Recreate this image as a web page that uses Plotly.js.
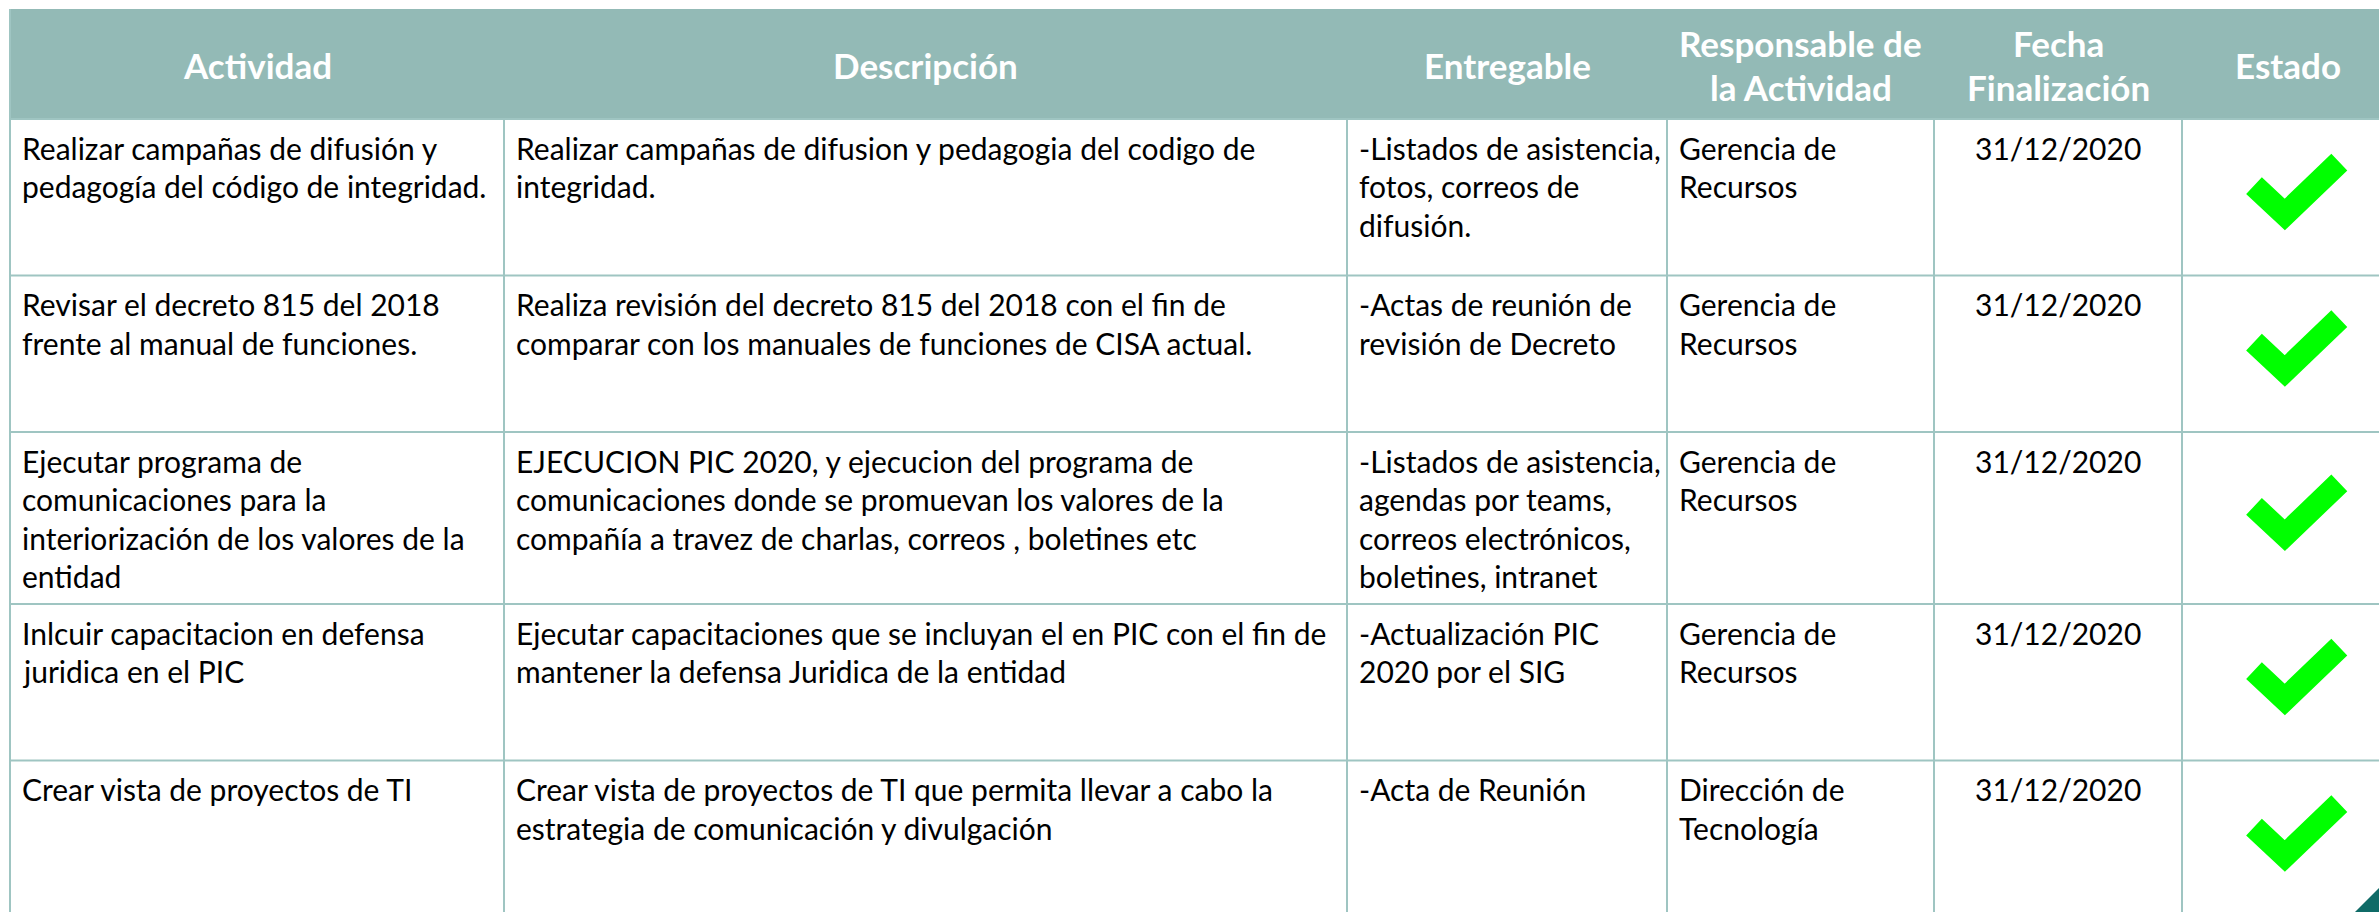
<!DOCTYPE html>
<html>
<head>
<meta charset="utf-8">
<script src="https://cdn.plot.ly/plotly-3.0.1.min.js"></script>
<style>html,body{margin:0;padding:0;background:#fff;}#chart{width:2379px;height:912px;}</style>
</head>
<body>
<div id="chart"></div>
<script>
// ---------- DATA ----------
const encabezados = ["Actividad", "Descripción", "Entregable", "Responsable de<br>la Actividad", "Fecha<br>Finalización", "Estado"];
const actividades = [
  "Realizar campañas de difusión y<br>pedagogía del código de integridad.",
  "Revisar el decreto 815 del 2018<br>frente al manual de funciones.",
  "Ejecutar programa de<br>comunicaciones para la<br>interiorización de los valores de la<br>entidad",
  "Inlcuir capacitacion en defensa<br>juridica en el PIC",
  "Crear vista de proyectos de TI"
];
const descripciones = [
  "Realizar campañas de difusion y pedagogia del codigo de<br>integridad.",
  "Realiza revisión del decreto 815 del 2018 con el fin de<br>comparar con los manuales de funciones de CISA actual.",
  "EJECUCION PIC 2020, y ejecucion del programa de<br>comunicaciones donde se promuevan los valores de la<br>compañía a travez de charlas, correos , boletines etc",
  "Ejecutar capacitaciones que se incluyan el en PIC con el fin de<br>mantener la defensa Juridica de la entidad",
  "Crear vista de proyectos de TI que permita llevar a cabo la<br>estrategia de comunicación y divulgación"
];
const entregables = [
  "-Listados de asistencia,<br>fotos, correos de<br>difusión.",
  "-Actas de reunión de<br>revisión de Decreto",
  "-Listados de asistencia,<br>agendas por teams,<br>correos electrónicos,<br>boletines, intranet",
  "-Actualización PIC<br>2020 por el SIG",
  "-Acta de Reunión"
];
const responsables = [
  "Gerencia de<br>Recursos",
  "Gerencia de<br>Recursos",
  "Gerencia de<br>Recursos",
  "Gerencia de<br>Recursos",
  "Dirección de<br>Tecnología"
];
const fechas = ["31/12/2020", "31/12/2020", "31/12/2020", "31/12/2020", "31/12/2020"];
const estados = ["Cumplida", "Cumplida", "Cumplida", "Cumplida", "Cumplida"];

// ---------- LAYOUT CONSTANTS ----------
const W = 2379, H = 912;
const colEdges = [10, 504, 1347, 1667, 1934, 2182, 2394];
const colAlign = ["left", "left", "left", "left", "center", "check"];
const TOP = 9, HEADER_H = 110;
const PAD_X = 10;
const FIRST = 28.5;    // centre of first text line below the row top
const LINE = 38.5;     // line spacing
const MIN_ROW = 156.5;
const HEAD_LINE = 44;

const HEADER_COLOR = "#93bab6";
const GRID_COLOR = "#9fc5c2";
const BODY_FONT = {family: "Lato, 'Open Sans', sans-serif", size: 30, color: "#000000"};
const HEAD_FONT = {family: "Lato, 'Open Sans', sans-serif", size: 35, color: "#ffffff", weight: "bold"};
const CHECK_COLOR = "#00ff00";

const columns = [actividades, descripciones, entregables, responsables, fechas, estados];
const nRows = actividades.length;

// row heights from number of text lines
const rowEdges = [TOP + HEADER_H];
for (let r = 0; r < nRows; r++) {
  let maxLines = 1;
  columns.forEach(c => { maxLines = Math.max(maxLines, String(c[r]).split("<br>").length); });
  const h = Math.max(MIN_ROW, FIRST + (maxLines - 1) * LINE + 28);
  rowEdges.push(rowEdges[r] + h);
}

const shapes = [];
const annotations = [];

// header band
shapes.push({type: "rect", xref: "x", yref: "y", x0: colEdges[0], x1: colEdges[colEdges.length - 1],
  y0: TOP, y1: TOP + HEADER_H, fillcolor: HEADER_COLOR, line: {width: 0}, layer: "below"});
// body background
shapes.push({type: "rect", xref: "x", yref: "y", x0: colEdges[0], x1: colEdges[colEdges.length - 1],
  y0: TOP + HEADER_H, y1: rowEdges[rowEdges.length - 1], fillcolor: "#ffffff", line: {width: 0}, layer: "below"});

// horizontal grid lines
for (let r = 0; r < rowEdges.length; r++) {
  shapes.push({type: "line", xref: "x", yref: "y", x0: colEdges[0], x1: colEdges[colEdges.length - 1],
    y0: rowEdges[r], y1: rowEdges[r], line: {color: GRID_COLOR, width: 2}, layer: "below"});
}
// vertical grid lines
for (let c = 0; c < colEdges.length; c++) {
  shapes.push({type: "line", xref: "x", yref: "y", x0: colEdges[c], x1: colEdges[c],
    y0: c === 0 ? TOP : TOP + HEADER_H, y1: rowEdges[rowEdges.length - 1],
    line: {color: GRID_COLOR, width: 2}, layer: "below"});
}

// header text
encabezados.forEach((t, c) => {
  const lines = t.split("<br>");
  const cx = (colEdges[c] + colEdges[c + 1]) / 2;
  const mid = TOP + HEADER_H / 2 + 1;
  lines.forEach((ln, i) => {
    annotations.push({xref: "x", yref: "y", x: cx, y: mid + (i - (lines.length - 1) / 2) * HEAD_LINE,
      text: ln, showarrow: false, xanchor: "center", yanchor: "middle", font: HEAD_FONT});
  });
});

// body text + check marks
const chkX = [], chkY = [];
const CHECK = [[-35, -11.6], [-4.2, 17.2], [50.3, -35.1]];
for (let r = 0; r < nRows; r++) {
  const top = rowEdges[r];
  const rowMid = (rowEdges[r] + rowEdges[r + 1]) / 2;
  columns.forEach((col, c) => {
    const align = colAlign[c];
    if (align === "check") {
      if (col[r] === "Cumplida") {
        const cx = colEdges[c] + 107;
        CHECK.forEach(p => { chkX.push(cx + p[0]); chkY.push(rowMid + p[1]); });
        chkX.push(null); chkY.push(null);
      }
      return;
    }
    const lines = String(col[r]).split("<br>");
    lines.forEach((ln, i) => {
      const x = align === "center" ? (colEdges[c] + colEdges[c + 1]) / 2 : colEdges[c] + PAD_X;
      annotations.push({xref: "x", yref: "y", x: x, y: top + FIRST + i * LINE, text: ln,
        showarrow: false, xanchor: align === "center" ? "center" : "left", yanchor: "middle", font: BODY_FONT});
    });
  });
}

// decorative corner
shapes.push({type: "path", xref: "x", yref: "y", path: "M 2355 912 L 2379 888 L 2379 912 Z",
  fillcolor: "#0f6b67", line: {width: 0}, layer: "above"});

const traces = [{
  type: "scatter", mode: "lines", x: chkX, y: chkY, connectgaps: false,
  line: {color: CHECK_COLOR, width: 23}, hoverinfo: "skip", showlegend: false
}];

const layout = {
  width: W, height: H, margin: {l: 0, r: 0, t: 0, b: 0, pad: 0},
  paper_bgcolor: "#ffffff", plot_bgcolor: "#ffffff", showlegend: false,
  xaxis: {range: [0, W], visible: false, fixedrange: true},
  yaxis: {range: [H, 0], visible: false, fixedrange: true},
  shapes: shapes, annotations: annotations
};

Plotly.newPlot("chart", traces, layout, {displayModeBar: false, staticPlot: true});
</script>
</body>
</html>
